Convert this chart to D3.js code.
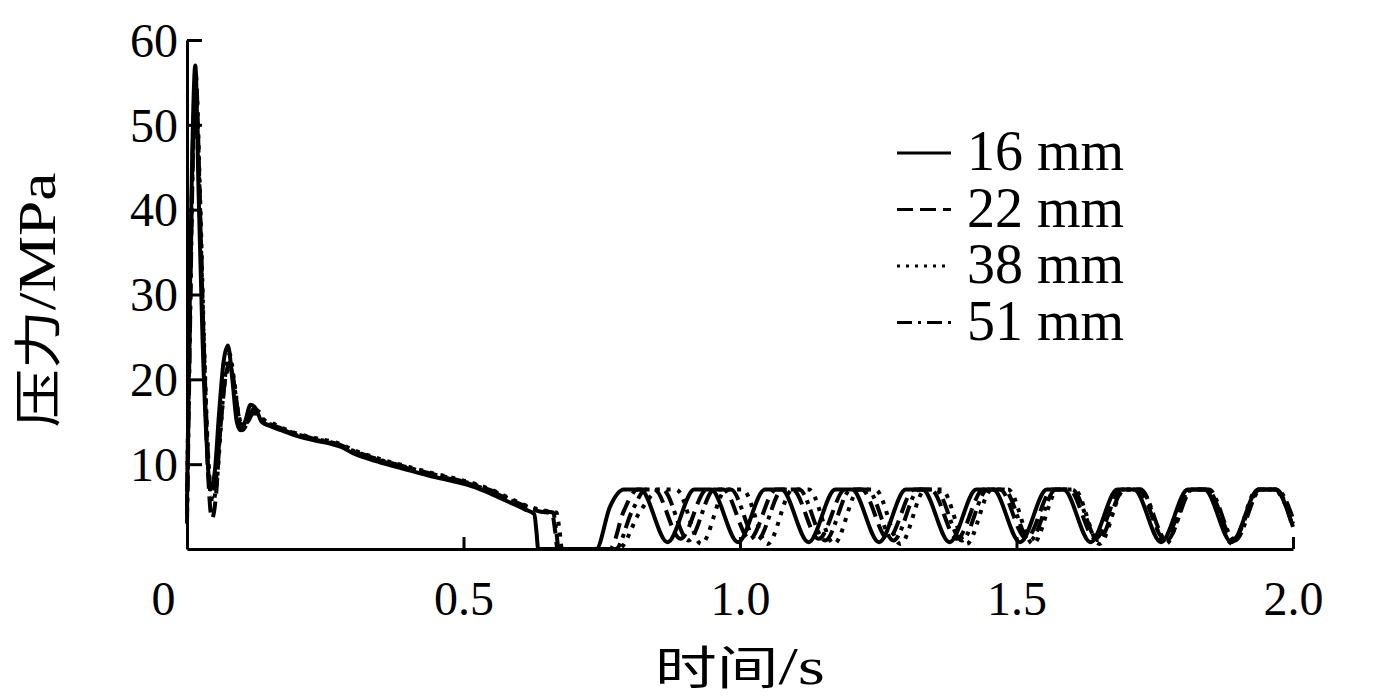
<!DOCTYPE html>
<html>
<head>
<meta charset="utf-8">
<script src="https://cdn.jsdelivr.net/npm/d3@7"></script>
<style>
  html, body { margin: 0; padding: 0; background: #fff; }
  svg { display: block; }
  text { font-family: "Liberation Serif", "Times New Roman", serif; fill: #000; }
  .cjk { font-family: "Noto Sans CJK SC", "Liberation Serif", serif; }
  .ser { font-family: "Liberation Serif", "Times New Roman", serif; }
</style>
</head>
<body>
<script>
// ---------------- data ----------------
const seriesNames = ["16 mm", "22 mm", "38 mm", "51 mm"];
const xTicks = [0, 0.5, 1.0, 1.5, 2.0];
const xTickLabels = ["0", "0.5", "1.0", "1.5", "2.0"];
const yTicks = [10, 20, 30, 40, 50, 60];
const yTickLabels = ["10", "20", "30", "40", "50", "60"];
const xTitleParts = ["时间", "/s"];
const yTitleParts = ["压力", "/MPa"];

// [time s, pressure MPa]
const p16 = [[0,5],[0.004,25],[0.009,45],[0.015,57],[0.021,42],[0.028,25],[0.036,12],[0.042,7],[0.05,9],[0.058,16],[0.066,22],[0.074,24],[0.082,20],[0.09,15],[0.097,14],[0.105,15],[0.115,17],[0.125,16.5],[0.135,15],[0.15,14.5],[0.17,14],[0.2,13.3],[0.23,12.8],[0.26,12.4],[0.28,12],[0.3,11.3],[0.33,10.6],[0.36,10],[0.4,9.3],[0.44,8.6],[0.48,8],[0.52,7.3],[0.55,6.5],[0.58,5.6],[0.61,4.7],[0.628,4.1],[0.632,2],[0.635,0],
  [0.74,0],[0.765,5],[0.79,7],[0.82,7],[0.869,0.8],[0.9175,7],[0.9475,7],[0.9965,0.8],[1.045,7],[1.075,7],[1.124,0.8],[1.1725,7],[1.2025,7],[1.2515,0.8],[1.30,7],[1.33,7],[1.379,0.8],[1.4275,7],[1.4575,7],[1.5065,0.8],[1.555,7],[1.585,7],[1.634,0.8],[1.6825,7],[1.7125,7],[1.7615,0.8],[1.81,7],[1.84,7],[1.889,0.8],[1.9375,7],[1.9675,7],[2.0,2.6]];

const p22 = [[0,4],[0.005,26],[0.01,46],[0.016,56],[0.022,44],[0.03,24],[0.038,9],[0.045,3.6],[0.052,6],[0.06,14],[0.069,20],[0.078,22],[0.086,19],[0.094,15],[0.1,14],[0.11,15],[0.12,16.5],[0.13,16],[0.14,14.8],[0.155,14.5],[0.175,14],[0.2,13.4],[0.23,12.9],[0.26,12.5],[0.28,12.1],[0.3,11.5],[0.33,10.8],[0.36,10.2],[0.4,9.5],[0.44,8.8],[0.48,8.2],[0.52,7.5],[0.55,6.8],[0.58,5.9],[0.61,5.0],[0.64,4.4],[0.66,4.2],[0.666,2],[0.67,0],
  [0.765,0],[0.79,4.5],[0.815,7],[0.845,7],[0.8925,1.2],[0.94,7],[0.97,7],[1.0175,1.2],[1.065,7],[1.095,7],[1.1425,1.2],[1.19,7],[1.22,7],[1.2675,1.2],[1.315,7],[1.345,7],[1.3925,1.2],[1.44,7],[1.47,7],[1.5175,1.2],[1.565,7],[1.595,7],[1.6425,1.2],[1.69,7],[1.72,7],[1.7675,1.2],[1.815,7],[1.845,7],[1.8925,1.2],[1.94,7],[1.97,7],[2.0,2.4]];

const p38 = [[0,6],[0.005,27],[0.01,45],[0.017,54],[0.023,43],[0.031,24],[0.039,10],[0.046,5.5],[0.054,8],[0.062,15],[0.07,21],[0.077,23],[0.085,20],[0.093,16],[0.1,14.5],[0.11,15.5],[0.12,16.5],[0.13,16.2],[0.14,15.2],[0.155,14.8],[0.175,14.2],[0.2,13.6],[0.23,13.1],[0.26,12.7],[0.28,12.3],[0.3,11.7],[0.33,11],[0.36,10.4],[0.4,9.7],[0.44,9],[0.48,8.4],[0.52,7.7],[0.55,7],[0.58,6.1],[0.61,5.2],[0.64,4.6],[0.668,4.3],[0.674,2],[0.678,0],
  [0.78,0],[0.82,4.5],[0.855,7],[0.885,7],[0.93,0.6],[0.975,7],[1.005,7],[1.05,0.6],[1.095,7],[1.125,7],[1.17,0.6],[1.215,7],[1.245,7],[1.29,0.6],[1.335,7],[1.365,7],[1.41,0.6],[1.455,7],[1.485,7],[1.53,0.6],[1.575,7],[1.605,7],[1.65,0.6],[1.695,7],[1.725,7],[1.77,0.6],[1.815,7],[1.845,7],[1.89,0.6],[1.935,7],[1.965,7],[2.0,3.0]];

const p51 = [[0,3],[0.005,24],[0.01,44],[0.016,53],[0.022,43],[0.03,25],[0.038,11],[0.044,6],[0.052,8],[0.06,14],[0.069,20],[0.078,21.5],[0.086,19],[0.094,15.5],[0.1,14.5],[0.11,15],[0.12,16],[0.13,15.8],[0.14,15],[0.155,14.6],[0.175,14.1],[0.2,13.5],[0.23,13],[0.26,12.6],[0.28,12.2],[0.3,11.6],[0.33,10.9],[0.36,10.3],[0.4,9.6],[0.44,8.9],[0.48,8.3],[0.52,7.6],[0.55,6.9],[0.58,6.0],[0.61,5.1],[0.64,4.5],[0.662,4.3],[0.668,2],[0.672,0],
  [0.775,0],[0.805,4.5],[0.83,7],[0.86,7],[0.907,1.0],[0.9535,7],[0.9835,7],[1.0305,1.0],[1.077,7],[1.107,7],[1.154,1.0],[1.2005,7],[1.2305,7],[1.2775,1.0],[1.324,7],[1.354,7],[1.401,1.0],[1.4475,7],[1.4775,7],[1.5245,1.0],[1.571,7],[1.601,7],[1.648,1.0],[1.6945,7],[1.7245,7],[1.7715,1.0],[1.818,7],[1.848,7],[1.895,1.0],[1.9415,7],[1.9715,7],[2.0,3.6]];

const seriesData = [p16, p22, p38, p51];

// ---------------- styles ----------------
const dashes = [null, "16,8", "4,7", "16,6,4,6"];
const legendDashes = [null, "16,7", "3,6", "15,6,3,6"];

const W = 1389, H = 698;
const x0 = 187, x1 = 1293, yTop = 40, yBot = 549;

const svg = d3.select("body").append("svg").attr("width", W).attr("height", H);
svg.append("rect").attr("width", W).attr("height", H).attr("fill", "#fff");

const x = d3.scaleLinear().domain([0, 2]).range([x0, x1]);
const y = d3.scaleLinear().domain([0, 60]).range([yBot, yTop]);

const line = d3.line().x(d => x(d[0])).y(d => y(Math.max(0, d[1]))).curve(d3.curveMonotoneX);

const gLines = svg.append("g");
seriesData.forEach((s, i) => {
  gLines.append("path")
    .datum(s)
    .attr("d", line)
    .attr("fill", "none")
    .attr("stroke", "#000")
    .attr("stroke-width", 4)
    .attr("stroke-linejoin", "round")
    .attr("stroke-dasharray", dashes[i]);
});

// axes
const yAxis = d3.axisLeft(y).tickValues(yTicks)
  .tickFormat((d, i) => yTickLabels[i]).tickSizeInner(-15).tickSizeOuter(0).tickPadding(9);
const gy = svg.append("g").attr("transform", `translate(${x0},0)`).call(yAxis);
gy.selectAll("path.domain").attr("stroke", "#000").attr("stroke-width", 3);
gy.selectAll(".tick line").attr("stroke", "#000").attr("stroke-width", 3);
gy.selectAll(".tick text").attr("font-size", 48).attr("font-family", "Liberation Serif").attr("dy", "0.34em");

const xAxis = d3.axisBottom(x).tickValues(xTicks)
  .tickFormat((d, i) => xTickLabels[i]).tickSizeInner(-12).tickSizeOuter(0).tickPadding(0);
const gx = svg.append("g").attr("transform", `translate(0,${yBot})`).call(xAxis);
gx.selectAll("path.domain").attr("stroke", "#000").attr("stroke-width", 3);
gx.selectAll(".tick line").attr("stroke", "#000").attr("stroke-width", 3)
  .attr("display", d => d === 0 ? "none" : null);
gx.selectAll(".tick text").attr("font-size", 48).attr("font-family", "Liberation Serif")
  .attr("y", 66).attr("dy", 0)
  .attr("x", d => d === 0 ? -24 : 0);

// axis titles
const yt = svg.append("text")
  .attr("transform", `translate(55,300) rotate(-90)`)
  .attr("text-anchor", "middle").attr("font-size", 48)
  .attr("textLength", 255).attr("lengthAdjust", "spacingAndGlyphs");
yt.append("tspan").attr("class", "cjk").text(yTitleParts[0]);
yt.append("tspan").attr("class", "ser").attr("font-size", 52).text(yTitleParts[1]);

const xt = svg.append("text")
  .attr("x", 740).attr("y", 684)
  .attr("text-anchor", "middle").attr("font-size", 46)
  .attr("textLength", 170).attr("lengthAdjust", "spacingAndGlyphs");
xt.append("tspan").attr("class", "cjk").text(xTitleParts[0]);
xt.append("tspan").attr("class", "ser").attr("font-size", 52).text(xTitleParts[1]);

// legend
const lg = svg.append("g");
seriesNames.forEach((name, i) => {
  const by = 170 + i * 56.5;
  lg.append("line").attr("x1", 897).attr("x2", 951)
    .attr("y1", by - 17).attr("y2", by - 17)
    .attr("stroke", "#000").attr("stroke-width", 3)
    .attr("stroke-dasharray", legendDashes[i]);
  lg.append("text").attr("x", 967).attr("y", by)
    .attr("font-size", 56).text(name);
});
</script>
</body>
</html>
